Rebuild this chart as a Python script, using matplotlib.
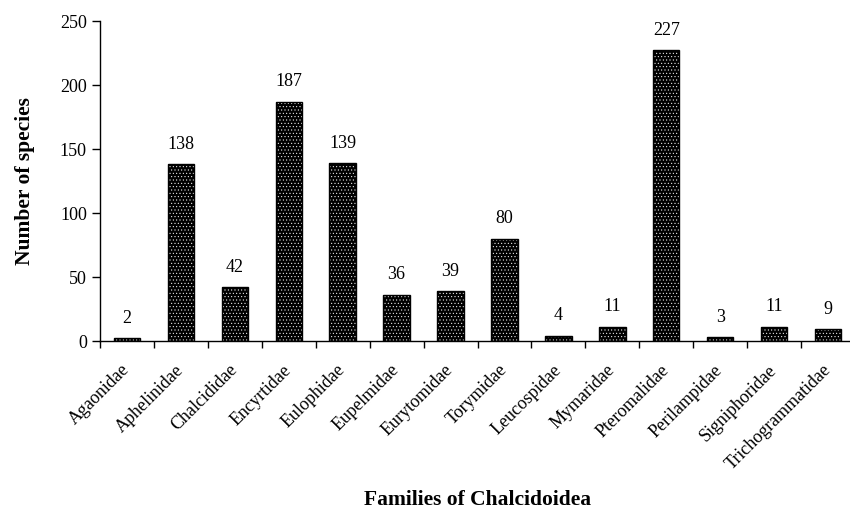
import matplotlib.pyplot as plt
import numpy as np

families = ['Agaonidae', 'Aphelinidae', 'Chalcididae', 'Encyrtidae', 'Eulophidae',
            'Eupelmidae', 'Eurytomidae', 'Torymidae', 'Leucospidae', 'Mymaridae',
            'Pteromalidae', 'Perilampidae', 'Signiphoridae', 'Trichogrammatidae']
species = [2, 138, 42, 187, 139, 36, 39, 80, 4, 11, 227, 3, 11, 9]

plt.rcParams['font.family'] = ['Liberation Serif', 'DejaVu Serif']
plt.rcParams['hatch.linewidth'] = 0.35

fig = plt.figure(figsize=(8.5, 5.12), dpi=100)
ax = fig.add_axes([100/850, 1 - 341/512, 755/850, 320/512])

x = np.arange(len(families))
# black bars with white dots, then the black outline on top
ax.bar(x, species, width=0.49, color='black', edgecolor='white', hatch='.....', linewidth=0)
ax.bar(x, species, width=0.49, fill=False, edgecolor='black', linewidth=1)

for xi, v in zip(x, species):
    ax.text(xi, v + 9, str(v), ha='center', va='bottom', fontsize=13)

ax.set_xlim(-0.5, len(families) - 0.5)
ax.set_ylim(0, 250)
ax.set_yticks(range(0, 251, 50))
ax.tick_params(axis='y', labelsize=13, direction='out', length=6, width=1)

ax.set_xticks(x)
ax.set_xticklabels(families, rotation=45, ha='right', va='center',
                   rotation_mode='anchor', fontsize=13)
ax.tick_params(axis='x', which='major', length=0, pad=19)
ax.set_xticks(np.arange(-0.5, len(families), 1), minor=True)
ax.tick_params(axis='x', which='minor', direction='out', length=5, width=1)

ax.spines['top'].set_visible(False)
ax.spines['right'].set_visible(False)
ax.spines['left'].set_linewidth(1)
ax.spines['bottom'].set_linewidth(1)

ax.set_ylabel('Number of species', fontsize=15.5, fontweight='bold', labelpad=18)
fig.text(478/850, 1 - 500/512, 'Families of Chalcidoidea', ha='center', va='center',
         fontsize=15.5, fontweight='bold')

fig.savefig('out.png', dpi=100)
